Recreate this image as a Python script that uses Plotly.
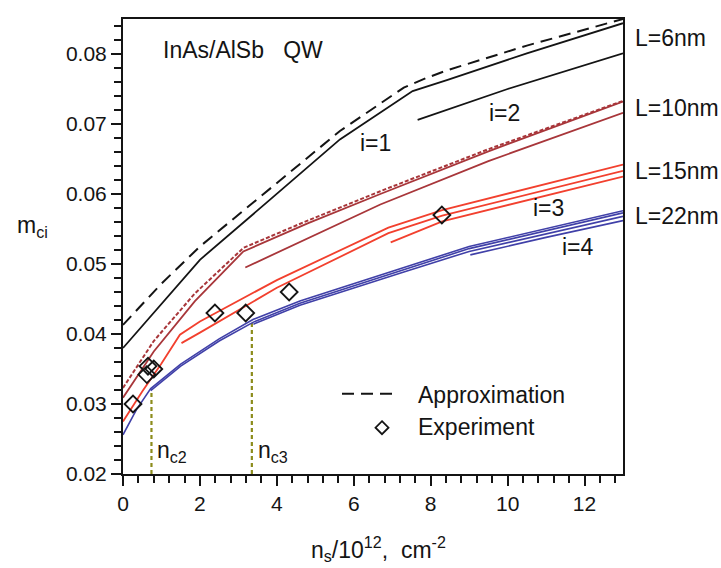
import plotly.graph_objects as go

# ---- effective mass curves m_ci(n_s) for InAs/AlSb quantum wells ----
# L = 6 nm
ns_6_i1 = [0.0, 1.09, 2.0, 3.74, 5.64, 7.53, 8.44, 10.5, 13.0]
m_6_i1 = [0.0380, 0.0449, 0.0506, 0.0588, 0.0678, 0.0747, 0.0763, 0.0801, 0.0844]
ns_6_i2 = [7.66, 10.0, 13.0]
m_6_i2 = [0.0706, 0.0750, 0.0801]
ns_6_apx = [0.0, 1.0, 2.0, 3.74, 5.64, 7.3, 7.9, 8.44, 10.5, 13.0]
m_6_apx = [0.0413, 0.0472, 0.0525, 0.0604, 0.0690, 0.0752, 0.0766, 0.0777, 0.0812, 0.0850]

# L = 10 nm
ns_10_i1 = [0.0, 0.8, 1.87, 3.13, 4.8, 6.69, 9.5, 13.0]
m_10_i1 = [0.0309, 0.0375, 0.0447, 0.0518, 0.0558, 0.0600, 0.0661, 0.0732]
ns_10_i2 = [3.18, 6.69, 9.5, 13.0]
m_10_i2 = [0.0495, 0.0585, 0.0647, 0.0716]
ns_10_apx = [0.0, 0.8, 1.87, 3.13, 4.8, 6.69, 9.5, 13.0]
m_10_apx = [0.0323, 0.0390, 0.0458, 0.0523, 0.0562, 0.0604, 0.0664, 0.0733]

# L = 15 nm
ns_15_i1 = [0.0, 0.5, 1.0, 1.48, 2.0, 4.0, 6.9, 8.3, 13.0]
m_15_i1 = [0.0275, 0.0318, 0.0358, 0.0399, 0.0418, 0.0477, 0.0552, 0.0577, 0.0642]
ns_15_i2 = [1.52, 2.0, 4.0, 6.9, 8.3, 13.0]
m_15_i2 = [0.0387, 0.0402, 0.0466, 0.0544, 0.0569, 0.0633]
ns_15_i3 = [6.96, 8.3, 13.0]
m_15_i3 = [0.0531, 0.0561, 0.0625]

# L = 22 nm
ns_22_i1 = [0.0, 0.35, 0.72, 1.5, 2.5, 3.39, 4.6, 7.22, 9.0, 13.0]
m_22_i1 = [0.0256, 0.0292, 0.0322, 0.0357, 0.0393, 0.0421, 0.0447, 0.0494, 0.0525, 0.0576]
ns_22_i2 = [0.72, 1.5, 2.5, 3.39, 4.6, 7.22, 9.0, 13.0]
m_22_i2 = [0.0319, 0.0354, 0.0390, 0.0417, 0.0444, 0.0491, 0.0522, 0.0573]
ns_22_i3 = [3.39, 4.6, 7.22, 9.0, 13.0]
m_22_i3 = [0.0414, 0.0441, 0.0487, 0.0518, 0.0568]
ns_22_i4 = [9.03, 11.0, 13.0]
m_22_i4 = [0.0513, 0.0538, 0.0562]

# experimental points
ns_exp = [0.26, 0.62, 0.65, 0.80, 2.39, 3.19, 4.32, 8.29]
m_exp = [0.0300, 0.0342, 0.0354, 0.0350, 0.0430, 0.0430, 0.0460, 0.0570]

# critical densities n_c2, n_c3 and the mass reached there (L = 22 nm)
ns_crit = [0.74, 3.35]
m_crit = [0.0321, 0.0418]
crit_labels = ["n<sub>c2</sub>", "n<sub>c3</sub>"]

x_ticks = [0, 2, 4, 6, 8, 10, 12]
y_ticks = [0.02, 0.03, 0.04, 0.05, 0.06, 0.07, 0.08]

BLACK = "#141414"
DARKRED = "#a8363a"
RED = "#f2402e"
BLUE = "#4040a8"
OLIVE = "#8c8c1c"
FONT = "Liberation Sans, Arial, sans-serif"

fig = go.Figure()


def curve(xs, ys, color, width=1.8, dash="solid"):
    fig.add_trace(go.Scatter(x=xs, y=ys, mode="lines", showlegend=False,
                             line=dict(color=color, width=width, dash=dash),
                             hoverinfo="skip"))


# critical density markers (dotted verticals)
for xc, yc in zip(ns_crit, m_crit):
    curve([xc, xc], [0.02, yc], OLIVE, width=2.2, dash="4px,3px")

curve(ns_22_i1, m_22_i1, BLUE, 1.6)
curve(ns_22_i2, m_22_i2, BLUE, 1.6)
curve(ns_22_i3, m_22_i3, BLUE, 1.6)
curve(ns_22_i4, m_22_i4, BLUE, 1.6)

curve(ns_15_i1, m_15_i1, RED)
curve(ns_15_i2, m_15_i2, RED)
curve(ns_15_i3, m_15_i3, RED)

curve(ns_10_apx, m_10_apx, DARKRED, 2.0, "4px,2px")
curve(ns_10_i1, m_10_i1, DARKRED)
curve(ns_10_i2, m_10_i2, DARKRED)

curve(ns_6_apx, m_6_apx, BLACK, 2.0, "12px,7px")
curve(ns_6_i1, m_6_i1, BLACK)
curve(ns_6_i2, m_6_i2, BLACK)

fig.add_trace(go.Scatter(x=ns_exp, y=m_exp, mode="markers", showlegend=False,
                         marker=dict(symbol="diamond-open", size=13,
                                     color=BLACK, line=dict(width=1.8, color=BLACK)),
                         hoverinfo="skip"))

ann_font = dict(family=FONT, size=23, color=BLACK)
annotations = [
    dict(x=1.0, y=0.0806, xref="x", yref="y", text="InAs/AlSb\u00a0\u00a0\u00a0QW",
         xanchor="left", yanchor="middle", showarrow=False, font=ann_font),
    dict(x=6.56, y=0.0673, xref="x", yref="y", text="i=1", showarrow=False, font=ann_font),
    dict(x=9.93, y=0.0716, xref="x", yref="y", text="i=2", showarrow=False, font=ann_font),
    dict(x=11.06, y=0.0580, xref="x", yref="y", text="i=3", showarrow=False, font=ann_font),
    dict(x=11.84, y=0.0525, xref="x", yref="y", text="i=4", showarrow=False, font=ann_font),
]
for label, yp in zip(["L=6nm", "L=10nm", "L=15nm", "L=22nm"], [0.958, 0.804, 0.666, 0.567]):
    annotations.append(dict(x=1.02, y=yp, xref="paper", yref="paper", text=label,
                            xanchor="left", yanchor="middle", showarrow=False, font=ann_font))
for xc, lab in zip(ns_crit, crit_labels):
    annotations.append(dict(x=xc + 0.1, y=0.0232, xref="x", yref="y", text=lab,
                            xanchor="left", yanchor="middle", showarrow=False, font=ann_font))

# legend entries
annotations.append(dict(x=0.585, y=0.174, xref="paper", yref="paper", text="Approximation",
                        xanchor="left", yanchor="middle", showarrow=False, font=ann_font))
annotations.append(dict(x=0.585, y=0.103, xref="paper", yref="paper", text="Experiment",
                        xanchor="left", yanchor="middle", showarrow=False, font=ann_font))

# axis titles
annotations.append(dict(x=-0.182, y=0.545, xref="paper", yref="paper", text="m<sub>ci</sub>",
                        xanchor="center", yanchor="middle", showarrow=False, font=ann_font))
annotations.append(dict(x=0.511, y=-0.165, xref="paper", yref="paper",
                        text="n<sub>s</sub>/10<sup>12</sup>,\u00a0\u00a0cm<sup>-2</sup>",
                        xanchor="center", yanchor="middle", showarrow=False, font=ann_font))

shapes = [
    dict(type="line", xref="paper", yref="paper", x0=0.438, x1=0.545, y0=0.1765, y1=0.1765,
         line=dict(color=BLACK, width=2, dash="12px,7px")),
    dict(type="path", xref="paper", yref="paper", xsizemode="pixel", ysizemode="pixel",
         xanchor=0.518, yanchor=0.1018, path="M 0 6.5 L 6.5 0 L 0 -6.5 L -6.5 0 Z",
         line=dict(color=BLACK, width=1.8)),
]

axis_common = dict(showline=True, linecolor=BLACK, linewidth=2, mirror=True,
                   showgrid=False, zeroline=False, ticks="outside", ticklen=10,
                   tickwidth=1.8, tickcolor=BLACK,
                   tickfont=dict(family=FONT, size=21, color=BLACK))

fig.update_layout(
    width=721, height=568,
    margin=dict(l=123, r=98, t=19, b=94),
    paper_bgcolor="white", plot_bgcolor="white",
    showlegend=False,
    xaxis=dict(range=[0, 13], tickvals=x_ticks, ticktext=[str(v) for v in x_ticks],
               minor=dict(dtick=0.4, tick0=0, ticks="outside", ticklen=7,
                          tickwidth=1.5, tickcolor=BLACK),
               **axis_common),
    yaxis=dict(range=[0.02, 0.085], tickvals=y_ticks,
               ticktext=[f"{v:.2f}" for v in y_ticks],
               minor=dict(dtick=0.002, tick0=0.02, ticks="outside", ticklen=7,
                          tickwidth=1.5, tickcolor=BLACK),
               **axis_common),
    annotations=annotations,
    shapes=shapes,
)

fig.write_html("out.html")
